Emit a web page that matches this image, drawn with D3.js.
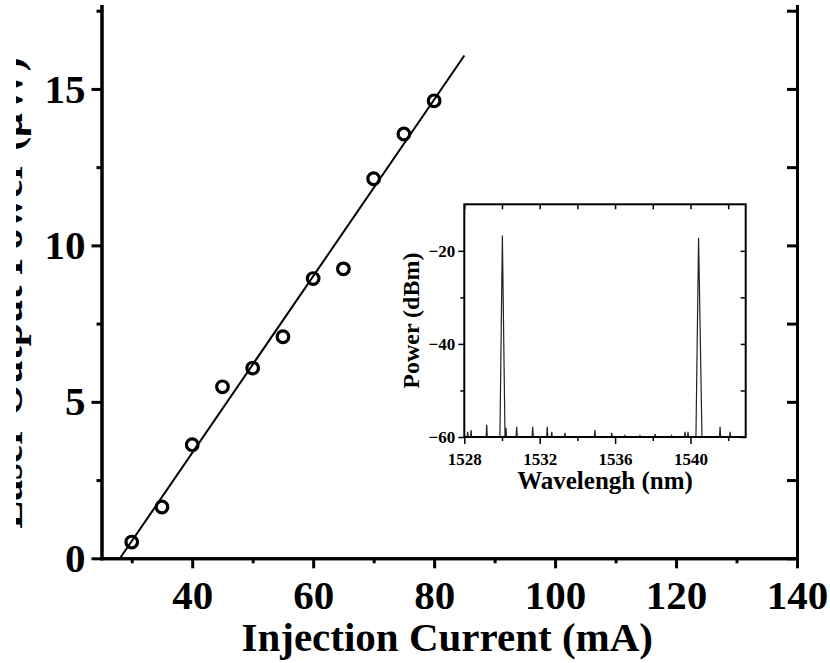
<!DOCTYPE html>
<html>
<head>
<meta charset="utf-8">
<script src="https://cdn.jsdelivr.net/npm/d3@7"></script>
<style>
  body { margin: 0; background: #fff; }
  svg { display: block; }
  text { font-family: "Liberation Serif", "Times New Roman", serif; font-weight: bold; fill: #000; }
</style>
</head>
<body>
<div class="chart-section"></div>
<script>
// main plot: L-I curve
const currents = [30, 35, 40, 45, 50, 55, 60, 65, 70, 75, 80];
const powers = [0.52, 1.64, 3.63, 5.48, 6.08, 7.08, 8.94, 9.25, 12.13, 13.56, 14.62];
const fitCurrent = [28.06, 85];
const fitPower = [0, 16.07];
const xMajor = [40, 60, 80, 100, 120, 140];
const xMinor = [30, 50, 70, 90, 110, 130];
const yMajor = [0, 5, 10, 15];
const yMinor = [2.5, 7.5, 12.5, 17.5];

// inset: optical spectrum
const specWl = [
  1528.0, 1528.15, 1528.18, 1528.21, 1528.33, 1528.36, 1528.39,
  1529.16, 1529.19, 1529.22, 1529.89, 1530.02, 1530.16,
  1530.18, 1530.21, 1530.24, 1530.75, 1530.78, 1530.81,
  1531.6, 1531.63, 1531.66, 1532.37, 1532.4, 1532.43,
  1532.61, 1532.64, 1532.67, 1533.31, 1533.34, 1533.37,
  1534.9, 1534.93, 1534.96, 1535.79, 1535.82, 1535.85,
  1536.49, 1536.52, 1536.55, 1537.29, 1537.32, 1537.35,
  1538.09, 1538.12, 1538.15, 1538.97, 1539.0, 1539.03,
  1539.68, 1539.71, 1539.74, 1539.84, 1539.87, 1539.9,
  1540.29, 1540.43, 1540.61,
  1541.54, 1541.57, 1541.6, 1542.07, 1542.1, 1542.13, 1542.93
];
const specDbm = [
  -60, -60, -58.9, -60, -60, -58.5, -60,
  -60, -57.4, -60, -60, -16.7, -60,
  -60, -58.0, -60, -60, -57.8, -60,
  -60, -57.8, -60, -60, -57.8, -60,
  -60, -58.9, -60, -60, -59.1, -60,
  -60, -58.5, -60, -60, -59.1, -60,
  -60, -59.7, -60, -60, -59.7, -60,
  -60, -59.4, -60, -60, -59.7, -60,
  -60, -58.9, -60, -60, -58.9, -60,
  -60, -17.2, -60,
  -60, -57.8, -60, -60, -58.9, -60, -60
];
const wlMajor = [1528, 1532, 1536, 1540];
const wlMinor = [1530, 1534, 1538, 1542];
const dbMajor = [-60, -40, -20];
const dbMinor = [-50, -30];

const width = 830;
const height = 663;

const svg = d3
  .select(".chart-section")
  .append("svg")
  .attr("width", width)
  .attr("height", height)
  .attr("viewBox", [0, 0, width, height]);

const x = d3.scaleLinear([25, 140], [101.5, 797]);
const y = d3.scaleLinear([0, 17.65], [558.3, 6]);

const styleAxis = (g, sw) => {
  g.attr("font-family", null);
  g.selectAll("path, line").attr("stroke", "#000").attr("stroke-width", sw);
  g.select(".domain").attr("stroke-linecap", "square");
  g.selectAll("text")
    .attr("fill", "#000")
    .style("font-family", '"Liberation Serif", "Times New Roman", serif')
    .style("font-weight", "bold");
};

// left axis
svg.append("g")
  .attr("transform", `translate(${x.range()[0]},0)`)
  .call(d3.axisLeft(y).tickValues(yMinor).tickSize(5).tickSizeOuter(0).tickFormat(""))
  .call((g) => styleAxis(g, 3));
svg.append("g")
  .attr("transform", `translate(${x.range()[0]},0)`)
  .call(d3.axisLeft(y).tickValues(yMajor).tickSize(10).tickSizeOuter(0).tickPadding(6))
  .call((g) => styleAxis(g, 3))
  .call((g) => g.selectAll("text").style("font-size", "41px"));

// right axis, ticks pointing inward
svg.append("g")
  .attr("transform", `translate(${x.range()[1]},0)`)
  .call(d3.axisLeft(y).tickValues(yMajor.concat(yMinor)).tickSize(10).tickSizeOuter(0).tickFormat(""))
  .call((g) => styleAxis(g, 3));

// bottom axis
svg.append("g")
  .attr("transform", `translate(0,${y(0)})`)
  .call(d3.axisBottom(x).tickValues(xMinor).tickSize(5).tickSizeOuter(0).tickFormat(""))
  .call((g) => styleAxis(g, 3));
svg.append("g")
  .attr("transform", `translate(0,${y(0)})`)
  .call(d3.axisBottom(x).tickValues(xMajor).tickSize(10).tickSizeOuter(0).tickPadding(12))
  .call((g) => styleAxis(g, 3))
  .call((g) => g.selectAll("text").style("font-size", "41px"));

// fit line
svg.append("path")
  .datum(fitCurrent.map((c, i) => [c, fitPower[i]]))
  .attr("fill", "none")
  .attr("stroke", "#000")
  .attr("stroke-width", 2)
  .attr("d", d3.line().x((d) => x(d[0])).y((d) => y(d[1])));

// measured points
svg.append("g")
  .selectAll("circle")
  .data(currents.map((c, i) => [c, powers[i]]))
  .join("circle")
  .attr("cx", (d) => x(d[0]))
  .attr("cy", (d) => y(d[1]))
  .attr("r", 5.8)
  .attr("fill", "none")
  .attr("stroke", "#000")
  .attr("stroke-width", 3.2);

// axis titles
svg.append("text")
  .attr("x", (x.range()[0] + x.range()[1]) / 2 - 2)
  .attr("y", 651)
  .attr("text-anchor", "middle")
  .attr("font-size", 41)
  .text("Injection Current (mA)");

svg.append("clipPath")
  .attr("id", "ylabel-clip")
  .append("rect")
  .attr("x", 16)
  .attr("y", 0)
  .attr("width", 40)
  .attr("height", height);

svg.append("g")
  .attr("clip-path", "url(#ylabel-clip)")
  .append("text")
  .attr("transform", "translate(22,293) rotate(-90)")
  .attr("text-anchor", "middle")
  .attr("font-size", 42)
  .text("Laser Output Power (\u03bcW)");

// ---- inset ----
const ix = d3.scaleLinear([1528, 1542.93], [464.3, 745.7]);
const iy = d3.scaleLinear([-60, -10], [437, 204.3]);

svg.append("clipPath")
  .attr("id", "inset-clip")
  .append("rect")
  .attr("x", ix.range()[0])
  .attr("y", iy.range()[1])
  .attr("width", ix.range()[1] - ix.range()[0])
  .attr("height", iy.range()[0] - iy.range()[1]);

svg.append("path")
  .datum(specWl.map((w, i) => [w, specDbm[i]]))
  .attr("clip-path", "url(#inset-clip)")
  .attr("fill", "none")
  .attr("stroke", "#222")
  .attr("stroke-width", 1.2)
  .attr("d", d3.line().x((d) => ix(d[0])).y((d) => iy(d[1])));

// inset frame
svg.append("rect")
  .attr("x", ix.range()[0])
  .attr("y", iy.range()[1])
  .attr("width", ix.range()[1] - ix.range()[0])
  .attr("height", iy.range()[0] - iy.range()[1])
  .attr("fill", "none")
  .attr("stroke", "#000")
  .attr("stroke-width", 2);

const insetAxis = (axis, tx, ty, values, size, labels) => {
  const g = svg.append("g")
    .attr("transform", `translate(${tx},${ty})`)
    .call(axis.tickValues(values).tickSize(size).tickSizeOuter(0).tickPadding(3).tickFormat(d3.format("d")));
  if (!labels) g.selectAll("text").remove();
  g.select(".domain").remove();
  g.call((g) => styleAxis(g, 1.5));
  g.selectAll("text").style("font-size", "17px");
  return g;
};

insetAxis(d3.axisLeft(iy), ix.range()[0], 0, dbMajor, 6, true);
insetAxis(d3.axisLeft(iy), ix.range()[0], 0, dbMinor, 4, false);
insetAxis(d3.axisLeft(iy), ix.range()[1], 0, dbMajor.concat(dbMinor), 5, false);
insetAxis(d3.axisBottom(ix), 0, iy.range()[0], wlMajor, 7, true)
  .selectAll("text").attr("dy", "1.05em");
insetAxis(d3.axisBottom(ix), 0, iy.range()[0], wlMinor, 4, false);
insetAxis(d3.axisTop(ix), 0, iy.range()[1], wlMajor.concat(wlMinor), -5, false);

svg.append("text")
  .attr("x", (ix.range()[0] + ix.range()[1]) / 2)
  .attr("y", 489)
  .attr("text-anchor", "middle")
  .attr("font-size", 25)
  .text("Wavelengh (nm)");

svg.append("text")
  .attr("transform", `translate(419,${(iy.range()[0] + iy.range()[1]) / 2}) rotate(-90)`)
  .attr("text-anchor", "middle")
  .attr("font-size", 24)
  .text("Power (dBm)");
</script>
</body>
</html>
